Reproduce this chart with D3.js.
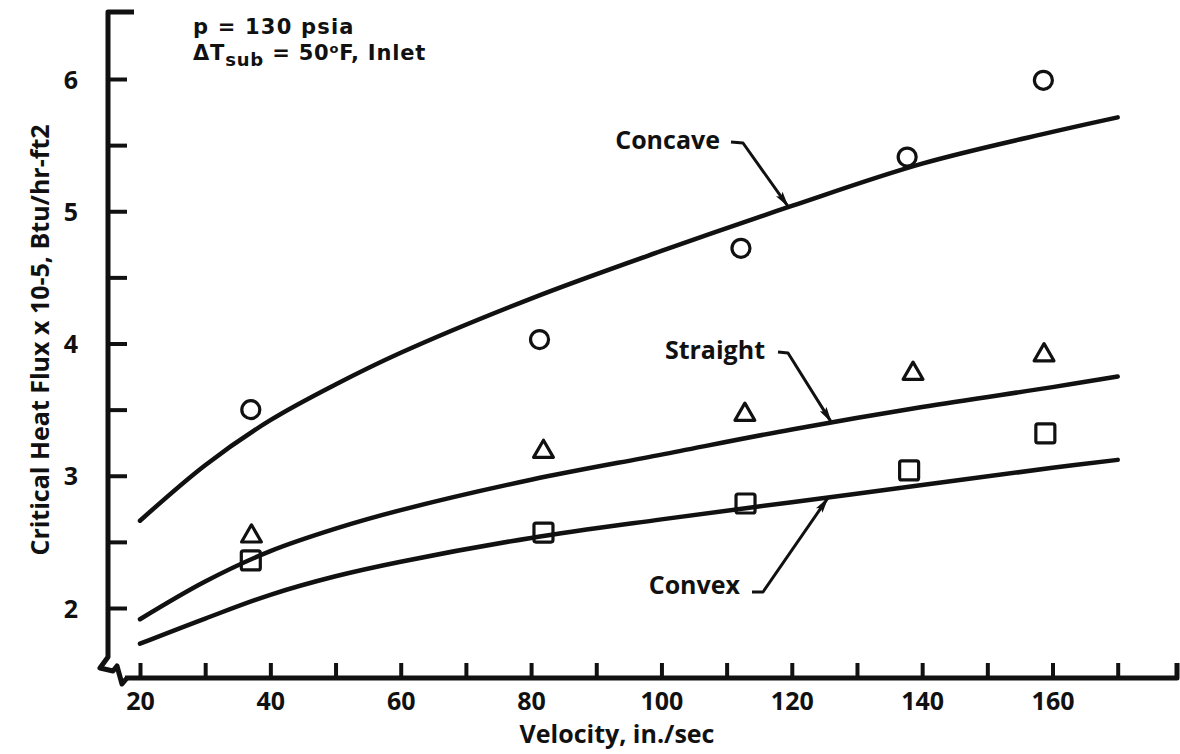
<!DOCTYPE html>
<html>
<head>
<meta charset="utf-8">
<script src="https://cdn.jsdelivr.net/npm/d3@7"></script>
<style>
  html, body { margin: 0; padding: 0; background: #fff; }
  svg { display: block; }
  text { font-family: "Open Sans", "Noto Sans", sans-serif; font-weight: 700; fill: #111; }
</style>
</head>
<body>
<svg id="chart" width="1180" height="754"></svg>
<script>
// ---- data ----
const xTickValues = [20, 30, 40, 50, 60, 70, 80, 90, 100, 110, 120, 130, 140, 150, 160, 170];
const xTickLabels = ["20", "", "40", "", "60", "", "80", "", "100", "", "120", "", "140", "", "160", ""];
const yTickValues = [2, 2.5, 3, 3.5, 4, 4.5, 5, 5.5, 6];
const yTickLabels = ["2", "", "3", "", "4", "", "5", "", "6"];

const curveX        = [20, 30, 40, 50, 60, 80, 100, 120, 140, 160, 170];
const concaveCurve  = [2.66, 3.08, 3.42, 3.69, 3.93, 4.34, 4.70, 5.04, 5.36, 5.60, 5.71];
const straightCurve = [1.915, 2.20, 2.43, 2.60, 2.74, 2.97, 3.16, 3.35, 3.52, 3.67, 3.75];
const convexCurve   = [1.73, 1.92, 2.10, 2.24, 2.35, 2.53, 2.67, 2.80, 2.93, 3.06, 3.12];

const circleX   = [37, 81.3, 112.2, 137.7, 158.6];
const circleY   = [3.50, 4.03, 4.72, 5.41, 5.99];
const triangleX = [37.1, 81.9, 112.8, 138.6, 158.7];
const triangleY = [2.55, 3.19, 3.47, 3.78, 3.92];
const squareX   = [37.0, 81.9, 112.9, 138.0, 158.9];
const squareY   = [2.36, 2.57, 2.79, 3.04, 3.32];

const curveNames = ["Concave", "Straight", "Convex"];
const arrowTipX  = [119.5, 126.1, 125.6];

const xTitle = "Velocity, in./sec";
const yTitle = "Critical Heat Flux x 10-5, Btu/hr-ft2";

// ---- layout ----
const svg = d3.select("#chart");
const x = d3.scaleLinear().domain([20, 170]).range([140, 1117.7]);
const y = d3.scaleLinear().domain([2, 6]).range([608, 79]);
const axisX0 = 108, axisY0 = 678;
const xEnd = x.invert(1177), yTop = y.invert(12);

// y axis line + top cap + break
svg.append("path")
  .attr("d", `M${axisX0 + 26},${y(yTop)} L${axisX0},${y(yTop)} L${axisX0},657 L100,668 L113,671 L117,666 L122,684 L127,${axisY0}`)
  .attr("fill", "none").attr("stroke", "#111").attr("stroke-width", 5).attr("stroke-linejoin", "round");
// x axis line + right upturn
svg.append("path")
  .attr("d", `M125,${axisY0} L${x(xEnd)},${axisY0} L${x(xEnd)},${axisY0 - 15}`)
  .attr("fill", "none").attr("stroke", "#111").attr("stroke-width", 5).attr("stroke-linejoin", "round");

// y axis ticks
const yAxis = d3.axisLeft(y).tickValues(yTickValues)
  .tickFormat((d, i) => yTickLabels[i]).tickSizeInner(-19).tickSizeOuter(0).tickPadding(30);
const gy = svg.append("g").attr("transform", `translate(${axisX0},0)`).call(yAxis);
gy.select(".domain").remove();
gy.selectAll(".tick line").attr("stroke", "#111").attr("stroke-width", 4);
gy.selectAll(".tick text").style("font-size", "25px").attr("dy", "0.36em");

// x axis ticks
const xAxis = d3.axisBottom(x).tickValues(xTickValues)
  .tickFormat((d, i) => xTickLabels[i]).tickSizeInner(-15).tickSizeOuter(0).tickPadding(14);
const gx = svg.append("g").attr("transform", `translate(0,${axisY0})`).call(xAxis);
gx.select(".domain").remove();
gx.selectAll(".tick line").attr("stroke", "#111").attr("stroke-width", 4);
gx.selectAll(".tick text").style("font-size", "25px");

// axis titles
svg.append("text").attr("x", 617).attr("y", 743).attr("text-anchor", "middle")
  .style("font-size", "25px").text(xTitle);
svg.append("text").attr("transform", "translate(49,340) rotate(-90)").attr("text-anchor", "middle")
  .style("font-size", "25px").text(yTitle);

// condition annotation
const annFont = "'DejaVu Sans', 'Open Sans', sans-serif";
svg.append("text").attr("x", 193).attr("y", 34)
  .style("font-family", annFont).style("font-size", "21px").style("letter-spacing", "1.2px")
  .text("p = 130 psia");
const ann2 = svg.append("text").attr("x", 193).attr("y", 60)
  .style("font-family", annFont).style("font-size", "21px").style("letter-spacing", "0.8px");
ann2.append("tspan").text("\u0394T");
ann2.append("tspan").attr("dy", 6).style("font-size", "18px").text("sub");
ann2.append("tspan").attr("dy", -6).text(" = 50");
ann2.append("tspan").attr("dy", -7).style("font-size", "13px").text("o");
ann2.append("tspan").attr("dy", 7).text("F, Inlet");

// curves
const curves = [concaveCurve, straightCurve, convexCurve];
const line = d3.line().x((d, i) => x(curveX[i])).y(d => y(d)).curve(d3.curveCatmullRom.alpha(0.5));
curves.forEach(c => {
  svg.append("path").attr("d", line(c)).attr("fill", "none")
    .attr("stroke", "#111").attr("stroke-width", 4.5).attr("stroke-linecap", "round");
});

// markers
const mStroke = 3.2;
svg.selectAll(".circ").data(circleX).enter().append("circle")
  .attr("cx", d => x(d)).attr("cy", (d, i) => y(circleY[i])).attr("r", 9)
  .attr("fill", "none").attr("stroke", "#111").attr("stroke-width", mStroke);
const tri = d3.symbol().type(d3.symbolTriangle).size(170);
svg.selectAll(".tri").data(triangleX).enter().append("path")
  .attr("d", tri).attr("transform", (d, i) => `translate(${x(d)},${y(triangleY[i]) + 1})`)
  .attr("fill", "none").attr("stroke", "#111").attr("stroke-width", mStroke).attr("stroke-linejoin", "round");
svg.selectAll(".sq").data(squareX).enter().append("rect")
  .attr("x", d => x(d) - 9.5).attr("y", (d, i) => y(squareY[i]) - 9.5)
  .attr("width", 19).attr("height", 19).attr("rx", 2)
  .attr("fill", "none").attr("stroke", "#111").attr("stroke-width", mStroke);

// curve labels with arrows
svg.append("defs").append("marker").attr("id", "ah")
  .attr("viewBox", "0 0 16 8").attr("refX", 16).attr("refY", 4)
  .attr("markerWidth", 16).attr("markerHeight", 8).attr("markerUnits", "userSpaceOnUse")
  .attr("orient", "auto")
  .append("path").attr("d", "M0,0 L16,4 L0,8 L3,4 Z").attr("fill", "#111");

const interp = (arr, v) => {
  for (let i = 0; i < curveX.length - 1; i++) {
    if (v >= curveX[i] && v <= curveX[i + 1]) {
      const t = (v - curveX[i]) / (curveX[i + 1] - curveX[i]);
      return arr[i] + t * (arr[i + 1] - arr[i]);
    }
  }
  return arr[arr.length - 1];
};
const labelAnchor = [[720, 149, 731, 142, 743, 143], [765, 359, 778, 352, 788, 353], [740, 594, 752, 592, 763, 592]];
curveNames.forEach((name, i) => {
  const [tx, ty, ax, ay, bx, by] = labelAnchor[i];
  svg.append("text").attr("x", tx).attr("y", ty).attr("text-anchor", "end").style("font-size", "25px").text(name);
  const tipX = x(arrowTipX[i]), tipY = y(interp(curves[i], arrowTipX[i]));
  svg.append("path").attr("d", `M${ax},${ay} L${bx},${by} L${tipX},${tipY}`)
    .attr("fill", "none").attr("stroke", "#111").attr("stroke-width", 3)
    .attr("stroke-linejoin", "round").attr("marker-end", "url(#ah)");
});
</script>
</body>
</html>
